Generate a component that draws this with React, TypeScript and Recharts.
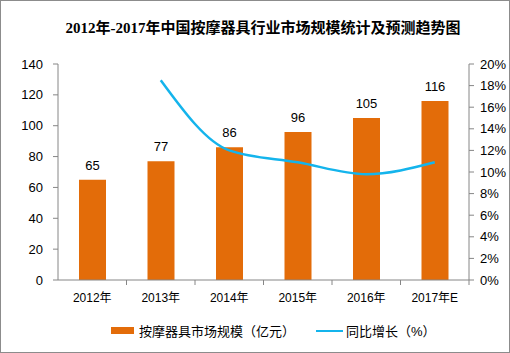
import {
  ComposedChart,
  Bar,
  Line,
  XAxis,
  YAxis,
  LabelList,
} from 'recharts';

const years = ['2012年', '2013年', '2014年', '2015年', '2016年', '2017年E'];
const marketSize = [65, 77, 86, 96, 105, 116];
const growthPct = [null, 18.5, 12.0, 10.9, 9.8, 10.9];
const leftTicks = [0, 20, 40, 60, 80, 100, 120, 140];
const rightTicks = [0, 2, 4, 6, 8, 10, 12, 14, 16, 18, 20];

const W = 510;
const H = 353;
const PLOT_LEFT = 58;
const PLOT_RIGHT = 469;
const FONT = '"Liberation Sans", "Noto Sans CJK SC", sans-serif';
const ORANGE = '#E36C09';
const BLUE = '#14B4EC';
const AXIS = '#868686';

const data = years.map((year, i) => ({
  year,
  size: marketSize[i],
  growth: growthPct[i],
}));

const step = (PLOT_RIGHT - PLOT_LEFT) / years.length;

function XTick({ x, y, payload }: any) {
  return (
    <g>
      <line x1={x + step / 2} x2={x + step / 2} y1={y - 8} y2={y - 3} stroke={AXIS} />
      <text x={x} y={y + 14} textAnchor="middle" fontSize={12} fill="#000" fontFamily={FONT}>
        {payload.value}
      </text>
    </g>
  );
}

function ChartLegend() {
  return (
    <div
      style={{
        position: 'absolute',
        top: 320,
        left: 110,
        display: 'flex',
        alignItems: 'center',
        fontSize: 13,
        fontFamily: FONT,
        color: '#000',
        whiteSpace: 'nowrap',
      }}
    >
      <span style={{ width: 23, height: 7, background: ORANGE, display: 'inline-block', marginRight: 5 }} />
      <span>按摩器具市场规模（亿元）</span>
      <span style={{ width: 27, height: 2, background: BLUE, display: 'inline-block', margin: '0 3px 0 21px' }} />
      <span>同比增长（%）</span>
    </div>
  );
}

export default function App() {
  return (
    <div
      style={{
        position: 'relative',
        width: W,
        height: H,
        boxSizing: 'border-box',
        border: '1px solid #8c8c8c',
        background: '#fff',
      }}
    >
      <style>{'body{margin:0}'}</style>
      <div
        style={{
          position: 'absolute',
          top: 15,
          left: 0,
          width: W,
          textAlign: 'center',
          fontSize: 15,
          fontWeight: 'bold',
          fontFamily: '"Liberation Serif", "Noto Sans CJK SC", serif',
          color: '#000',
          paddingLeft: 14,
          boxSizing: 'border-box',
        }}
      >
        2012年-2017年中国按摩器具行业市场规模统计及预测趋势图
      </div>
      <ComposedChart
        width={W - 2}
        height={H - 2}
        data={data}
        margin={{ top: 63, right: 0, bottom: 42, left: 0 }}
        style={{ position: 'absolute', top: 0, left: 0 }}
      >
        <XAxis
          dataKey="year"
          stroke={AXIS}
          tickLine={false}
          tick={<XTick />}
          height={30}
          interval={0}
        />
        <YAxis
          yAxisId="left"
          domain={[0, 140]}
          ticks={leftTicks}
          width={PLOT_LEFT - 1}
          stroke={AXIS}
          tickSize={5}
          tickMargin={10}
          tick={{ fill: '#000', fontSize: 13, fontFamily: FONT }}
          interval={0}
        />
        <YAxis
          yAxisId="right"
          orientation="right"
          domain={[0, 20]}
          ticks={rightTicks}
          tickFormatter={(v) => `${v}%`}
          width={W - 1 - PLOT_RIGHT}
          stroke={AXIS}
          tickSize={5}
          tickMargin={6}
          tick={{ fill: '#000', fontSize: 13, fontFamily: FONT }}
          interval={0}
        />
        <Bar yAxisId="left" dataKey="size" fill={ORANGE} barSize={27} isAnimationActive={false}>
          <LabelList dataKey="size" position="top" offset={10} fill="#000" fontSize={13} fontFamily={FONT} />
        </Bar>
        <Line
          yAxisId="right"
          type="monotone"
          dataKey="growth"
          stroke={BLUE}
          strokeWidth={2.5}
          dot={false}
          connectNulls
          isAnimationActive={false}
        />
      </ComposedChart>
      <ChartLegend />
    </div>
  );
}
